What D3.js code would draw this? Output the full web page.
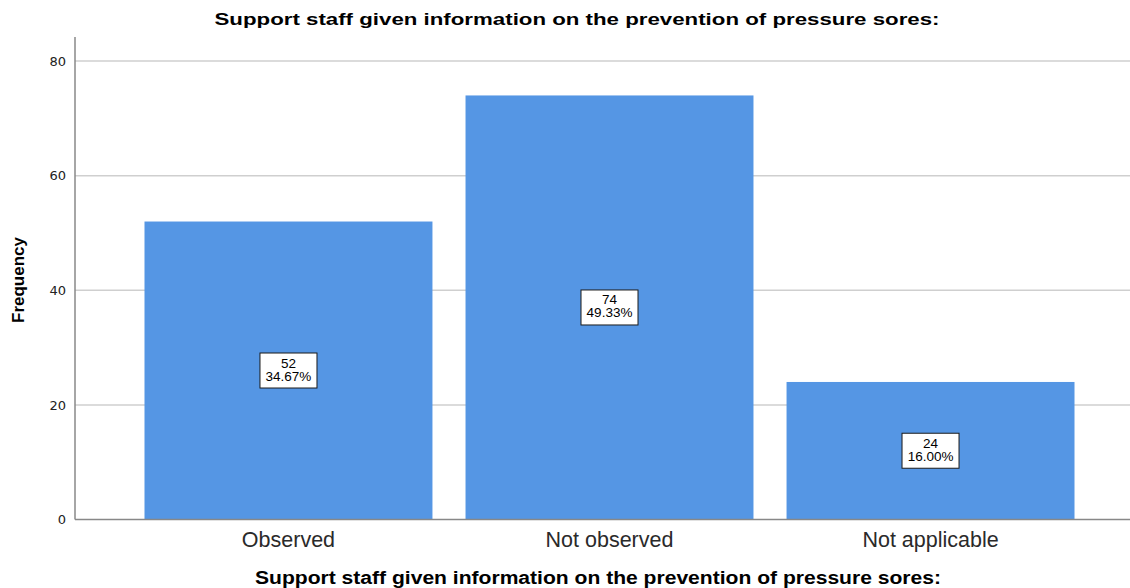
<!DOCTYPE html>
<html>
<head>
<meta charset="utf-8">
<script src="https://cdnjs.cloudflare.com/ajax/libs/d3/7.8.5/d3.min.js"></script>
<style>
  body { margin: 0; background: #fff; }
  svg { display: block; font-family: "Liberation Sans", Arial, sans-serif; }
</style>
</head>
<body>
<svg width="1130" height="588"></svg>
<script>
// chart data
var categories = ["Observed", "Not observed", "Not applicable"];
var counts = [52, 74, 24];
var percents = ["34.67%", "49.33%", "16.00%"];
var yTicks = [0, 20, 40, 60, 80];

var svg = d3.select("svg"),
    width = +svg.attr("width"),
    height = +svg.attr("height");

// plot edges (window.top is read-only, so don't call it top)
var plotLeft = 75, plotRight = 1130, plotTop = 37, plotBottom = 519.5;

var x = d3.scaleBand()
    .domain(categories)
    .range([plotLeft, 1144])
    .paddingInner(0.103)
    .paddingOuter(0.2165);

var y = d3.scaleLinear()
    .domain([0, 84.2])
    .range([plotBottom, plotTop]);

// gridlines
svg.append("g")
  .selectAll("line")
  .data(yTicks.filter(function(d) { return d > 0; }))
  .enter().append("line")
    .attr("x1", plotLeft).attr("x2", plotRight)
    .attr("y1", function(d) { return y(d); })
    .attr("y2", function(d) { return y(d); })
    .attr("stroke", "#cfcfcf")
    .attr("stroke-width", 1.5);

// bars
svg.append("g")
  .selectAll("rect")
  .data(counts)
  .enter().append("rect")
    .attr("x", function(d, i) { return x(categories[i]); })
    .attr("y", function(d) { return y(d); })
    .attr("width", x.bandwidth())
    .attr("height", function(d) { return plotBottom - y(d); })
    .attr("fill", "#5596e4");

// y axis
var yAxis = svg.append("g")
    .attr("transform", "translate(" + plotLeft + ",0)")
    .call(d3.axisLeft(y).tickValues(yTicks).tickSize(0).tickPadding(9));
yAxis.select(".domain").remove();
yAxis.selectAll("text")
    .attr("font-size", 13)
    .attr("font-family", "DejaVu Sans, sans-serif")
    .attr("fill", "#222");

svg.append("line")
    .attr("x1", plotLeft).attr("x2", plotLeft)
    .attr("y1", plotTop).attr("y2", plotBottom)
    .attr("stroke", "#888").attr("stroke-width", 1.5);
svg.append("line")
    .attr("x1", plotLeft).attr("x2", plotRight)
    .attr("y1", plotBottom).attr("y2", plotBottom)
    .attr("stroke", "#888").attr("stroke-width", 1.5);

// x axis labels
var xAxis = svg.append("g")
    .attr("transform", "translate(0," + plotBottom + ")")
    .call(d3.axisBottom(x).tickSize(0).tickPadding(12));
xAxis.select(".domain").remove();
xAxis.selectAll("text")
    .attr("font-size", 21.5)
    .attr("fill", "#2a2a2a");

// value labels
var labels = svg.append("g")
  .selectAll("g")
  .data(counts)
  .enter().append("g")
    .attr("transform", function(d, i) {
      var cx = x(categories[i]) + x.bandwidth() / 2;
      var cy = (y(d) + plotBottom) / 2;
      return "translate(" + cx + "," + cy + ")";
    });

labels.append("rect")
    .attr("x", -28.5).attr("y", -17.5)
    .attr("width", 57).attr("height", 35)
    .attr("fill", "#fff")
    .attr("stroke", "#1a1a1a")
    .attr("stroke-width", 1);

labels.append("text")
    .attr("text-anchor", "middle")
    .attr("y", -3)
    .attr("font-size", 13.5)
    .text(function(d) { return d; });

labels.append("text")
    .attr("text-anchor", "middle")
    .attr("y", 10)
    .attr("font-size", 13.5)
    .text(function(d, i) { return percents[i]; });

// titles
var titleText = "Support staff given information on the prevention of pressure sores:";

svg.append("text")
    .attr("x", 577).attr("y", 25)
    .attr("text-anchor", "middle")
    .attr("font-size", 17)
    .attr("font-weight", "bold")
    .attr("textLength", 725)
    .attr("lengthAdjust", "spacingAndGlyphs")
    .text(titleText);

svg.append("text")
    .attr("x", 598).attr("y", 584)
    .attr("text-anchor", "middle")
    .attr("font-size", 18)
    .attr("font-weight", "bold")
    .attr("textLength", 686)
    .attr("lengthAdjust", "spacingAndGlyphs")
    .text(titleText);

svg.append("text")
    .attr("transform", "translate(24,280) rotate(-90)")
    .attr("text-anchor", "middle")
    .attr("font-size", 17)
    .attr("font-weight", "bold")
    .text("Frequency");
</script>
</body>
</html>
